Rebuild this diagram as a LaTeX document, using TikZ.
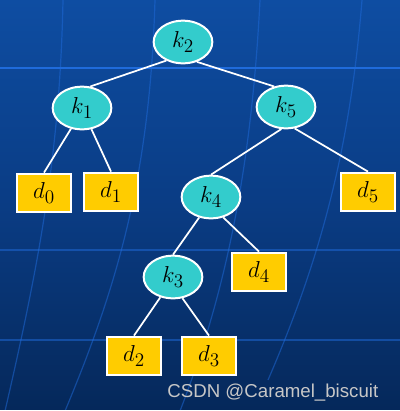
\documentclass[tikz,border=0pt]{standalone}
\usepackage{fontspec}
\newfontfamily\wmfont{Liberation Sans}
\usetikzlibrary{shapes.geometric,positioning}
\definecolor{keyfill}{HTML}{33CCCC}
\definecolor{leaffill}{HTML}{FFCC00}
\definecolor{bgtop}{HTML}{0E4DA2}
\definecolor{bgmid}{HTML}{0A3C84}
\definecolor{bgbot}{HTML}{05285A}
\definecolor{gridline}{HTML}{1F6BDB}
\tikzset{
	key/.style={ellipse, draw=white, line width=1.5pt, fill=keyfill, minimum width=44pt, minimum height=32pt, inner sep=0pt, font=\fontsize{19}{21}\selectfont},
	leaf/.style={rectangle, draw=white, line width=1.6pt, fill=leaffill, minimum width=41pt, minimum height=29pt, inner sep=0pt, font=\fontsize{19}{21}\selectfont},
	branch/.style={draw=white, line width=1.3pt},
	faint/.style={draw=gridline, opacity=0.5, line width=0.9pt}
}
\newcommand{\bgpanel}{\shade[top color=bgtop, bottom color=bgbot, middle color=bgmid] (0,0) rectangle (400,411);
\draw[draw=gridline, line width=1.6pt] (0,68) -- (400,68);
\draw[faint] (0,250) -- (400,250);
\draw[faint] (0,340) -- (400,340);
\draw[faint] (63,0) .. controls (60,150) and (40,260) .. (5,411);
\draw[faint] (155,0) .. controls (150,170) and (120,280) .. (65,411);
\draw[faint] (260,0) .. controls (250,200) and (215,320) .. (180,411);
\draw[faint] (362,0) .. controls (350,150) and (320,260) .. (268,380);
\fill[white] (0,409.5) rectangle (400,411);
}

\begin{document}
\begin{tikzpicture}[x=0.75pt, y=-0.75pt]

					\useasboundingbox (0,0) rectangle (400,411);
					\bgpanel

					\node[key] (k2) at (183,42) {$k_2$};
					\node[key] (k1) at (82,108) {$k_1$};
					\node[key] (k5) at (286,107) {$k_5$};
					\node[key] (k4) at (211,197) {$k_4$};
					\node[key] (k3) at (173,277) {$k_3$};

					\node[leaf] (d0) at (44,193) {$d_0$};
					\node[leaf] (d1) at (111,192) {$d_1$};
					\node[leaf] (d5) at (368,192) {$d_5$};
					\node[leaf] (d4) at (259,272) {$d_4$};
					\node[leaf] (d2) at (134,356) {$d_2$};
					\node[leaf] (d3) at (209,356) {$d_3$};

					\draw[branch] (k2.-132) -- (k1.69);
					\draw[branch] (k2.-55) -- (k5.120);
					\draw[branch] (k1.-118) -- (d0.north);
					\draw[branch] (k1.-66) -- (d1.north);
					\draw[branch] (k5.-102) -- (k4.north);
					\draw[branch] (k5.-68) -- (d5.north);
					\draw[branch] (k4.-120) -- (k3.north);
					\draw[branch] (k4.-59) -- (d4.north);
					\draw[branch] (k3.-122) -- (d2.north);
					\draw[branch] (k3.-66) -- (d3.north);

					\node[anchor=base east, text=white!78!black, font=\wmfont\fontsize{14}{16}\selectfont] (mark) at (383,397) {CSDN @Caramel\_biscuit};

				\end{tikzpicture}
\end{document}
